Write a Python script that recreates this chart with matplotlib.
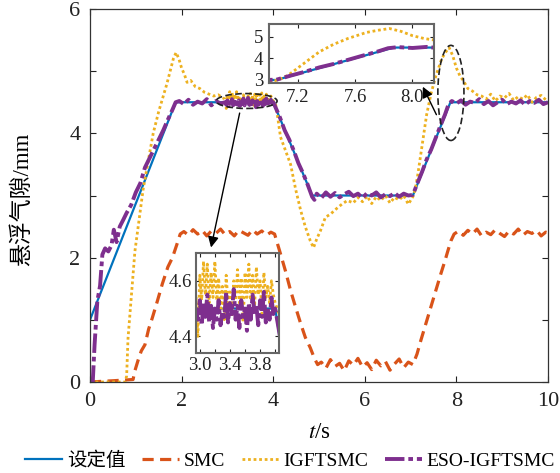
import matplotlib
matplotlib.use("Agg")
import numpy as np
import matplotlib.pyplot as plt
from matplotlib.patches import Ellipse
from matplotlib.lines import Line2D

plt.rcParams['font.family'] = ['Liberation Serif', 'Noto Sans CJK SC']
plt.rcParams['mathtext.fontset'] = 'stix'
plt.rcParams['axes.unicode_minus'] = False

# ---------------- data ----------------
legend_labels = ['设定值', 'SMC', 'IGFTSMC', 'ESO-IGFTSMC']

# reference gap (set value)
t_ref = [0.0, 1.87, 4.0, 4.85, 7.05, 7.87, 10.0]
y_ref = [1.0, 4.5, 4.5, 3.0, 3.0, 4.5, 4.5]

# SMC response
t_smc = [0.0, 0.5, 0.94, 0.98, 1.05, 1.12, 1.2, 1.28, 1.36, 1.47, 1.58, 1.7, 1.8, 1.9, 1.97,
         2.05, 2.15, 2.25, 2.35, 2.45, 2.55, 2.65, 2.75, 2.85, 2.95, 3.05, 3.15, 3.25, 3.35,
         3.45, 3.55, 3.65, 3.75, 3.85, 3.95, 4.03,
         4.16, 4.27, 4.38, 4.49, 4.6, 4.7, 4.81, 4.9, 4.97,
         5.05, 5.15, 5.25, 5.35, 5.45, 5.55, 5.65, 5.75, 5.85, 5.95, 6.05, 6.15, 6.25, 6.35,
         6.45, 6.55, 6.65, 6.75, 6.85, 6.95, 7.05,
         7.14, 7.22, 7.33, 7.44, 7.55, 7.66, 7.75, 7.81, 7.88, 7.95,
         8.05, 8.15, 8.25, 8.35, 8.45, 8.55, 8.65, 8.75, 8.85, 8.95, 9.05, 9.15, 9.25, 9.35,
         9.45, 9.55, 9.65, 9.75, 9.85, 9.95, 10.0]
y_smc = [0.0, 0.02, 0.04, 0.18, 0.35, 0.5, 0.6, 0.85, 1.03, 1.3, 1.58, 1.85, 2.0, 2.22, 2.38,
         2.42, 2.36, 2.45, 2.38, 2.44, 2.35, 2.43, 2.39, 2.46, 2.37, 2.42, 2.35, 2.44, 2.40,
         2.36, 2.45, 2.38, 2.43, 2.36, 2.41, 2.38,
         2.06, 1.78, 1.47, 1.2, 0.94, 0.72, 0.55, 0.38, 0.28,
         0.32, 0.22, 0.36, 0.25, 0.30, 0.18, 0.34, 0.27, 0.38, 0.24, 0.31, 0.20, 0.35, 0.26,
         0.33, 0.19, 0.29, 0.37, 0.23, 0.32, 0.28,
         0.45, 0.66, 0.93, 1.2, 1.47, 1.74, 1.95, 2.1, 2.27, 2.38,
         2.43, 2.36, 2.44, 2.38, 2.46, 2.35, 2.41, 2.37, 2.45, 2.39, 2.34, 2.43, 2.38, 2.46,
         2.36, 2.42, 2.39, 2.44, 2.35, 2.41, 2.40]

# fine samples on the 2.95-4.0 s plateau
t_fine = [2.950, 2.975, 3.000, 3.025, 3.050, 3.075, 3.100, 3.125, 3.150, 3.175, 3.200,
          3.225, 3.250, 3.275, 3.300, 3.325, 3.350, 3.375, 3.400, 3.425, 3.450, 3.475,
          3.500, 3.525, 3.550, 3.575, 3.600, 3.625, 3.650, 3.675, 3.700, 3.725, 3.750,
          3.775, 3.800, 3.825, 3.850, 3.875, 3.900, 3.925, 3.950, 3.975, 4.000]
ig_fine = [4.55, 4.40, 4.62, 4.53, 4.67, 4.55, 4.66, 4.52, 4.63, 4.54, 4.67,
           4.53, 4.61, 4.50, 4.58, 4.46, 4.62, 4.52, 4.56, 4.47, 4.60, 4.53,
           4.64, 4.52, 4.61, 4.45, 4.63, 4.54, 4.66, 4.53, 4.62, 4.50, 4.65,
           4.55, 4.60, 4.48, 4.63, 4.54, 4.58, 4.52, 4.60, 4.55, 4.52]
eso_fine = [4.50, 4.46, 4.53, 4.44, 4.52, 4.47, 4.55, 4.45, 4.51, 4.43, 4.50,
            4.46, 4.53, 4.44, 4.49, 4.47, 4.56, 4.45, 4.52, 4.48, 4.57, 4.46,
            4.51, 4.43, 4.53, 4.47, 4.50, 4.42, 4.52, 4.46, 4.55, 4.48, 4.51,
            4.44, 4.53, 4.47, 4.56, 4.45, 4.50, 4.46, 4.54, 4.48, 4.50]

# IGFTSMC response (outside the fine window)
t_ig_a = [0.0, 0.77, 0.8, 0.83, 0.9, 0.98, 1.07, 1.16, 1.27, 1.38, 1.5, 1.6, 1.68, 1.75,
          1.82, 1.88, 1.94, 2.0, 2.06, 2.12, 2.2, 2.3, 2.4, 2.5, 2.6, 2.7, 2.8, 2.9]
y_ig_a = [0.0, 0.0, 0.1, 0.7, 1.35, 2.1, 2.6, 3.1, 3.55, 4.0, 4.35, 4.6, 4.8, 5.0,
          5.2, 5.3, 5.2, 5.05, 4.95, 4.82, 4.85, 4.75, 4.72, 4.66, 4.63, 4.6, 4.62, 4.57]
t_ig_b = [4.05, 4.1, 4.16, 4.27, 4.38, 4.49, 4.6, 4.7, 4.81, 4.88, 4.95, 5.03, 5.14, 5.25,
          5.4, 5.5, 5.62, 5.75, 5.85, 5.95, 6.05, 6.15, 6.25, 6.35, 6.45, 6.55, 6.65, 6.75,
          6.85, 6.95, 7.05, 7.1, 7.15, 7.25, 7.35, 7.45, 7.55, 7.68, 7.76, 7.84, 7.92, 8.0,
          8.08, 8.15, 8.25, 8.35, 8.45, 8.55, 8.65, 8.75, 8.85, 8.95, 9.05, 9.15, 9.25, 9.35,
          9.45, 9.55, 9.65, 9.75, 9.85, 9.95, 10.0]
y_ig_b = [4.48, 4.25, 3.94, 3.72, 3.5, 3.1, 2.76, 2.5, 2.27, 2.16, 2.3, 2.43, 2.65, 2.7,
          2.8, 2.86, 2.92, 2.88, 2.97, 2.9, 2.99, 2.87, 2.98, 2.92, 3.0, 2.88, 2.97, 2.93,
          3.0, 2.86, 2.98, 3.1, 3.3, 3.8, 4.3, 4.65, 4.92, 5.2, 5.3, 5.38, 5.25, 5.05,
          4.92, 4.85, 4.72, 4.68, 4.62, 4.6, 4.55, 4.63, 4.52, 4.6, 4.57, 4.64, 4.53, 4.59,
          4.55, 4.62, 4.5, 4.58, 4.61, 4.54, 4.56]

# ESO-IGFTSMC response (outside the fine window)
t_eso_a = [0.0, 0.06, 0.1, 0.16, 0.22, 0.27, 0.33, 0.4, 0.47, 0.52, 0.58, 0.65, 0.72, 0.8,
           0.9, 1.0, 1.1, 1.2, 1.3, 1.4, 1.5, 1.6, 1.7, 1.8, 1.87,
           1.95, 2.05, 2.15, 2.25, 2.35, 2.45, 2.55, 2.65, 2.75, 2.85]
y_eso_a = [0.0, 0.0, 0.6, 1.3, 1.55, 2.05, 2.15, 2.1, 2.2, 2.45, 2.25, 2.5, 2.6, 2.72,
           2.85, 3.05, 3.2, 3.45, 3.6, 3.75, 3.9, 4.05, 4.22, 4.38, 4.5,
           4.52, 4.47, 4.54, 4.46, 4.51, 4.48, 4.55, 4.45, 4.52, 4.48]
t_eso_b = [4.05, 4.15, 4.25, 4.35, 4.45, 4.55, 4.65, 4.75, 4.85, 4.9,
           4.95, 5.05, 5.15, 5.25, 5.35, 5.45, 5.55, 5.65, 5.75, 5.85, 5.95, 6.05, 6.15,
           6.25, 6.35, 6.45, 6.55, 6.65, 6.75, 6.85, 6.95, 7.05,
           7.15, 7.25, 7.35, 7.45, 7.55, 7.65, 7.75, 7.83, 7.9,
           8.0, 8.1, 8.2, 8.3, 8.4, 8.5, 8.6, 8.7, 8.8, 8.9, 9.0, 9.1, 9.2, 9.3, 9.4,
           9.5, 9.6, 9.7, 9.8, 9.9, 10.0]
y_eso_b = [4.42, 4.25, 4.05, 3.9, 3.72, 3.52, 3.36, 3.18, 2.98, 2.93,
           3.03, 2.96, 3.05, 2.98, 3.04, 2.97, 3.02, 3.06, 2.99, 3.03, 2.96, 3.04, 3.0,
           3.05, 2.97, 3.02, 2.99, 3.04, 2.98, 3.03, 3.0, 3.01,
           3.2, 3.38, 3.58, 3.74, 3.93, 4.12, 4.3, 4.47, 4.52,
           4.48, 4.53, 4.46, 4.51, 4.49, 4.55, 4.47, 4.52, 4.45, 4.5, 4.54, 4.47, 4.51,
           4.48, 4.53, 4.46, 4.52, 4.49, 4.54, 4.47, 4.5]

t_ig = t_ig_a + t_fine + t_ig_b
y_ig = y_ig_a + ig_fine + y_ig_b
t_eso = t_eso_a + t_fine + t_eso_b
y_eso = y_eso_a + eso_fine + y_eso_b

# ---------------- styles ----------------
C_REF, C_SMC, C_IG, C_ESO = '#0072BD', '#D95319', '#EDB120', '#7E2F8E'
STY = {
    'ref': dict(color=C_REF, lw=1.6, ls='-'),
    'smc': dict(color=C_SMC, lw=2.3, ls=(0, (3.5, 2))),
    'ig': dict(color=C_IG, lw=2.0, ls=(0, (1, 1))),
    'eso': dict(color=C_ESO, lw=2.8, ls=(0, (5, 1, 1.2, 1))),
}


def draw_series(a, with_smc=True):
    a.plot(t_ref, y_ref, **STY['ref'])
    if with_smc:
        a.plot(t_smc, y_smc, **STY['smc'])
    a.plot(t_ig, y_ig, **STY['ig'])
    a.plot(t_eso, y_eso, **STY['eso'])


fig = plt.figure(figsize=(5.6, 4.73), dpi=100)
ax = fig.add_axes([90 / 560, 1 - 382 / 473, 458 / 560, 373 / 473])
draw_series(ax)

ax.set_xlim(0, 10)
ax.set_ylim(0, 6)
ax.set_xticks([0, 2, 4, 6, 8, 10])
ax.set_yticks([0, 1, 2, 3, 4, 5, 6])
ax.set_yticklabels(['0', '', '2', '', '4', '', '6'])
ax.tick_params(direction='in', top=True, right=True, length=4, width=0.8,
               labelsize=16, pad=7, colors='#222222')
for s in ax.spines.values():
    s.set_color('#333333')
    s.set_linewidth(0.9)

ax.set_ylabel('悬浮气隙/mm', fontsize=16.5)
ax.yaxis.set_label_coords(-0.125, 0.49)
ax.set_xlabel('$t$/s', fontsize=16.5)
ax.xaxis.set_label_coords(0.5, -0.108)

# highlighted regions and pointers to the zoomed views
ax.add_patch(Ellipse((3.42, 4.52), 1.33, 0.24, fill=False, ls=(0, (4, 2)),
                     lw=1.2, ec='#222222', zorder=5))
ax.add_patch(Ellipse((7.88, 4.65), 0.57, 1.53, fill=False, ls=(0, (4, 2)),
                     lw=1.2, ec='#222222', zorder=5))
ax.annotate('', xy=(2.63, 2.12), xytext=(3.28, 4.37),
            arrowprops=dict(arrowstyle='-|>', color='k', lw=1.0, mutation_scale=16))
ax.annotate('', xy=(7.24, 4.79), xytext=(7.59, 4.26),
            arrowprops=dict(arrowstyle='-|>', color='k', lw=1.0, mutation_scale=16))

# zoomed view of the 3-4 s plateau
ax1 = fig.add_axes([196 / 560, 1 - 353 / 473, 83 / 560, 100 / 473])
draw_series(ax1, with_smc=False)
ax1.set_xlim(2.95, 4.05)
ax1.set_ylim(4.34, 4.70)
ax1.set_xticks([3.0, 3.2, 3.4, 3.6, 3.8, 4.0])
ax1.set_xticklabels(['3.0', '', '3.4', '', '3.8', ''])
ax1.set_yticks([4.4, 4.6])
ax1.set_yticklabels(['4.4', '4.6'])
ax1.tick_params(direction='in', top=True, right=True, length=3, width=0.8,
                labelsize=13.5, pad=3, colors='#222222')

# zoomed view of the second rise
ax2 = fig.add_axes([269 / 560, 1 - 83 / 473, 165 / 560, 59 / 473])
draw_series(ax2, with_smc=False)
ax2.set_xlim(7.0, 8.15)
ax2.set_ylim(2.86, 5.59)
ax2.set_xticks([7.2, 7.6, 8.0])
ax2.set_xticklabels(['7.2', '7.6', '8.0'])
ax2.set_yticks([3, 4, 5])
ax2.tick_params(direction='in', top=True, right=True, length=3, width=0.8,
                labelsize=13.5, pad=4, colors='#222222')

for a in (ax1, ax2):
    a.set_facecolor('white')
    for s in a.spines.values():
        s.set_color('#666666')
        s.set_linewidth(1.5)

handles = [Line2D([], [], **STY['ref']), Line2D([], [], **STY['smc']),
           Line2D([], [], **STY['ig']), Line2D([], [], **STY['eso'])]
fig.legend(handles, legend_labels, loc='center', bbox_to_anchor=(0.518, 0.026), ncol=4,
           frameon=False, fontsize=14, handlelength=1.9, handletextpad=0.25,
           columnspacing=0.85, borderpad=0.1)

fig.savefig('out.png', dpi=100)
